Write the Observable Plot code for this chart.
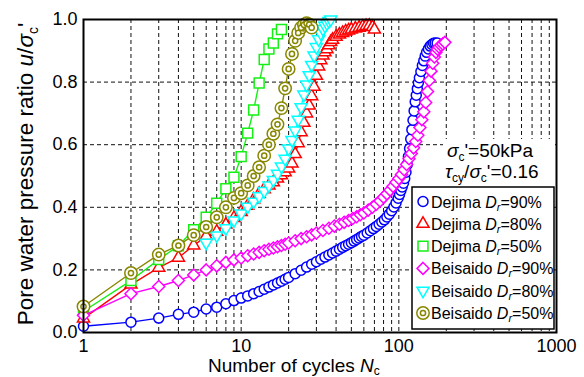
<!DOCTYPE html>
<html><head><meta charset="utf-8">
<script src="https://cdn.jsdelivr.net/npm/d3@7"></script>
<script src="https://cdn.jsdelivr.net/npm/@observablehq/plot@0.6"></script>
<style>
body{margin:0;background:#fff;}
svg{font-family:"Liberation Sans",Arial,sans-serif;}
</style>
</head><body><div id="chart"></div>
<script>
// ---- data (number of cycles N, pore pressure ratio u/σc') ----
const dejima90N = [1,2,3,4,5,6,7,8,9,10,11,12,13,14,15,16,17,18,19,20,22,24,26,28,30,32,34,36,38,40,42,44,46,48,50,52,54,56,58,60,63,66,69,72,75,78,81,84,87,90,93,96,99,101,103,105,107,109,111,113,115,117,119,121,123,125,127,129,131,133,135,138,141,144,147,150,154,158,162,166,170,175];
const dejima90U = [0.020,0.033,0.046,0.058,0.065,0.075,0.081,0.092,0.102,0.110,0.117,0.124,0.131,0.138,0.145,0.152,0.158,0.164,0.170,0.176,0.188,0.199,0.209,0.218,0.226,0.234,0.241,0.248,0.254,0.260,0.266,0.272,0.277,0.282,0.287,0.292,0.297,0.302,0.307,0.311,0.318,0.325,0.332,0.339,0.346,0.353,0.360,0.369,0.378,0.389,0.401,0.414,0.429,0.441,0.454,0.465,0.477,0.492,0.512,0.537,0.562,0.588,0.618,0.648,0.678,0.708,0.737,0.758,0.779,0.798,0.814,0.834,0.853,0.868,0.883,0.895,0.906,0.915,0.920,0.924,0.925,0.925];

const dejima80N = [1,2,3,4,5,6,7,8,9,10,11,12,13,14,15,16,17,18,19,20,21,22,23,24,25,26,27,28,29,30,31,32,33,34,35,36,37,38,40,42,44,46,48,50,53,56,59,62,65,68,70];
const dejima80U = [0.045,0.153,0.207,0.239,0.278,0.308,0.322,0.345,0.366,0.385,0.405,0.425,0.443,0.458,0.470,0.480,0.492,0.502,0.512,0.524,0.540,0.570,0.605,0.640,0.670,0.700,0.725,0.755,0.785,0.820,0.850,0.870,0.885,0.895,0.905,0.918,0.928,0.935,0.945,0.952,0.957,0.962,0.965,0.968,0.971,0.974,0.977,0.979,0.980,0.976,0.968];

const dejima50N = [1,2,3,4,5,6,7,8,9,10,11,12,13,14,15,16,17,18];
const dejima50U = [0.068,0.166,0.233,0.277,0.328,0.368,0.413,0.459,0.496,0.562,0.637,0.711,0.797,0.872,0.906,0.925,0.954,0.968];

const beisaido90N = [1,2,3,4,5,6,7,8,9,10,11,12,13,14,15,16,17,18,19,20,22,24,26,28,30,33,36,39,42,45,48,51,54,57,60,64,68,72,76,80,84,88,92,96,100,104,108,112,116,120,124,128,132,136,140,144,148,152,156,160,164,168,172,176,180,185,190,196];
const beisaido90U = [0.055,0.124,0.147,0.166,0.184,0.200,0.213,0.224,0.232,0.238,0.245,0.251,0.256,0.261,0.266,0.270,0.274,0.278,0.282,0.286,0.293,0.300,0.306,0.312,0.318,0.326,0.333,0.340,0.346,0.352,0.358,0.364,0.370,0.376,0.382,0.391,0.400,0.410,0.420,0.432,0.443,0.455,0.467,0.480,0.492,0.505,0.520,0.537,0.555,0.572,0.590,0.610,0.630,0.655,0.680,0.705,0.735,0.770,0.805,0.835,0.860,0.880,0.895,0.905,0.912,0.918,0.922,0.927];

const beisaido80N = [6,7,8,9,10,11,12,13,14,15,16,17,18,19,20,21,22,23,24,25,26,27,28,29,30,31,32,33,34,35,36,37];
const beisaido80U = [0.287,0.310,0.333,0.358,0.380,0.402,0.418,0.435,0.452,0.470,0.487,0.507,0.530,0.555,0.588,0.615,0.645,0.680,0.720,0.760,0.792,0.822,0.855,0.885,0.912,0.937,0.956,0.970,0.980,0.988,0.995,1.000];

const beisaido50N = [1,2,3,4,5,6,7,8,9,10,11,12,13,14,15,16,17,18,19,20,21,22,23,24,25,26,27,28];
const beisaido50U = [0.083,0.190,0.249,0.278,0.311,0.337,0.368,0.400,0.430,0.445,0.470,0.500,0.528,0.565,0.600,0.635,0.665,0.717,0.780,0.842,0.890,0.932,0.957,0.974,0.983,0.988,0.984,0.974];

const xTicks = [1, 10, 100, 1000];
const yTicks = [0, 0.2, 0.4, 0.6, 0.8, 1.0];
const xGrid = [2,3,4,5,6,7,8,9,10,20,30,40,50,60,70,80,90,100,200,300,400,500,600,700,800,900];
const yGrid = [0.2, 0.4, 0.6, 0.8];

const seriesNames = ["Dejima", "Dejima", "Dejima", "Beisaido", "Beisaido", "Beisaido"];
const seriesDr = ["90%", "80%", "50%", "90%", "80%", "50%"];
const seriesColors = ["#0000ff", "#ff0000", "#14f014", "#ff00ff", "#00ffff", "#878700"];

// ---- build ----
const triangleDown = {
  draw(ctx, size) {
    const y = -Math.sqrt(size / (Math.sqrt(3) * 3));
    ctx.moveTo(0, -2 * y);
    ctx.lineTo(-Math.sqrt(3) * y, y);
    ctx.lineTo(Math.sqrt(3) * y, y);
    ctx.closePath();
  }
};
const seriesSymbols = ["circle", "triangle", "square", "diamond2", triangleDown, "circle"];
const seriesR = [5, 4.5, 5.6, 5.4, 4.5, 6.2];
const rawN = [dejima90N, dejima80N, dejima50N, beisaido90N, beisaido80N, beisaido50N];
const rawU = [dejima90U, dejima80U, dejima50U, beisaido90U, beisaido80U, beisaido50U];

const FONT = "'Liberation Sans', Arial, sans-serif";
const marks = [
  Plot.ruleX(xGrid, {stroke: "#111", strokeDasharray: "4,3", strokeWidth: 1}),
  Plot.ruleY(yGrid, {stroke: "#111", strokeDasharray: "4,3", strokeWidth: 1}),
  Plot.axisX({ticks: xTicks, tickFormat: d => String(d), tickSize: 0, tickPadding: 7, label: null, fontSize: 18}),
  Plot.axisY({ticks: yTicks, tickFormat: d => d.toFixed(1), tickSize: 0, tickPadding: 6, label: null, fontSize: 18})
];
rawN.forEach((Ns, i) => {
  const data = Ns.map((n, k) => ({N: n, u: rawU[i][k]}));
  const c = seriesColors[i];
  marks.push(Plot.line(data, {x: "N", y: "u", stroke: c, strokeWidth: 1.4}));
  marks.push(Plot.dot(data, {x: "N", y: "u", symbol: seriesSymbols[i], r: seriesR[i], stroke: c, fill: "white", strokeWidth: 1.5}));
  if (i === 5) marks.push(Plot.dot(data, {x: "N", y: "u", symbol: "circle", r: 2.6, stroke: c, fill: "white", strokeWidth: 1.5}));
});
marks.push(Plot.frame({stroke: "black", strokeWidth: 2}));

const plot = Plot.plot({
  width: 584, height: 377,
  marginLeft: 83, marginRight: 28, marginTop: 19, marginBottom: 45,
  x: {type: "log", domain: [1, 1000]},
  y: {domain: [0, 1]},
  style: {fontFamily: FONT, fontSize: "18px", background: "white", color: "black", overflow: "visible"},
  marks
});
document.getElementById("chart").appendChild(plot);

const svg = d3.select(plot);
// axis titles
const xt = svg.append("text").attr("x", 208).attr("y", 372).attr("font-size", 19).attr("fill", "black").attr("text-anchor", "start");
xt.append("tspan").text("Number of cycles ");
xt.append("tspan").attr("font-style", "italic").text("N");
xt.append("tspan").attr("font-size", 12).attr("dy", 3).text("c");

const yt = svg.append("text").attr("transform", "translate(33,174) rotate(-90)").attr("text-anchor", "middle").attr("font-size", 22.5).attr("fill", "black");
yt.append("tspan").text("Pore water pressure ratio ");
yt.append("tspan").attr("font-style", "italic").text("u");
yt.append("tspan").text("/");
yt.append("tspan").attr("font-style", "italic").text("σ");
yt.append("tspan").attr("font-size", 14).attr("dy", 5).text("c");
yt.append("tspan").attr("dy", -5).text("'");

// annotation (white backing box hides grid, as in the reference)
svg.append("rect").attr("x", 443).attr("y", 139).attr("width", 112).attr("height", 48).attr("fill", "white");
const a1 = svg.append("text").attr("x", 447).attr("y", 157).attr("font-size", 19).attr("fill", "black").attr("text-anchor", "start");
a1.append("tspan").attr("font-style", "italic").text("σ");
a1.append("tspan").attr("font-size", 12).attr("dy", 4).text("c");
a1.append("tspan").attr("dy", -4).text("'=50kPa");
const a2 = svg.append("text").attr("x", 445).attr("y", 178).attr("font-size", 19).attr("fill", "black").attr("text-anchor", "start");
a2.append("tspan").attr("font-style", "italic").text("τ");
a2.append("tspan").attr("font-size", 12).attr("dy", 4).text("cy");
a2.append("tspan").attr("dy", -4).text("/");
a2.append("tspan").attr("font-style", "italic").text("σ");
a2.append("tspan").attr("font-size", 12).attr("dy", 4).text("c");
a2.append("tspan").attr("dy", -4).text("'=0.16");

// legend
const lg = svg.append("g");
lg.append("rect").attr("x", 412).attr("y", 187).attr("width", 142).attr("height", 142)
  .attr("fill", "white").attr("stroke", "black").attr("stroke-width", 1.5);
const d3sym = [d3.symbolCircle, d3.symbolTriangle, d3.symbolSquare, d3.symbolDiamond2, triangleDown, d3.symbolCircle];
seriesNames.forEach((name, i) => {
  const cy = 201.5 + i * 22.3;
  const c = seriesColors[i];
  const size = Math.PI * seriesR[i] * seriesR[i];
  lg.append("path").attr("d", d3.symbol(d3sym[i], size)()).attr("transform", `translate(423,${cy})`)
    .attr("fill", "white").attr("stroke", c).attr("stroke-width", 1.5);
  if (i === 5) lg.append("path").attr("d", d3.symbol(d3.symbolCircle, Math.PI * 2.6 * 2.6)()).attr("transform", `translate(423,${cy})`)
    .attr("fill", "white").attr("stroke", c).attr("stroke-width", 1.5);
  const t = lg.append("text").attr("x", 431).attr("y", cy + 6).attr("font-size", 16).attr("fill", "black").attr("text-anchor", "start");
  t.append("tspan").text(name + " ");
  t.append("tspan").attr("font-style", "italic").text("D");
  t.append("tspan").attr("font-style", "italic").attr("font-size", 11).attr("dy", 3).text("r");
  t.append("tspan").attr("dy", -3).text("=" + seriesDr[i]);
});
</script>
</body></html>
